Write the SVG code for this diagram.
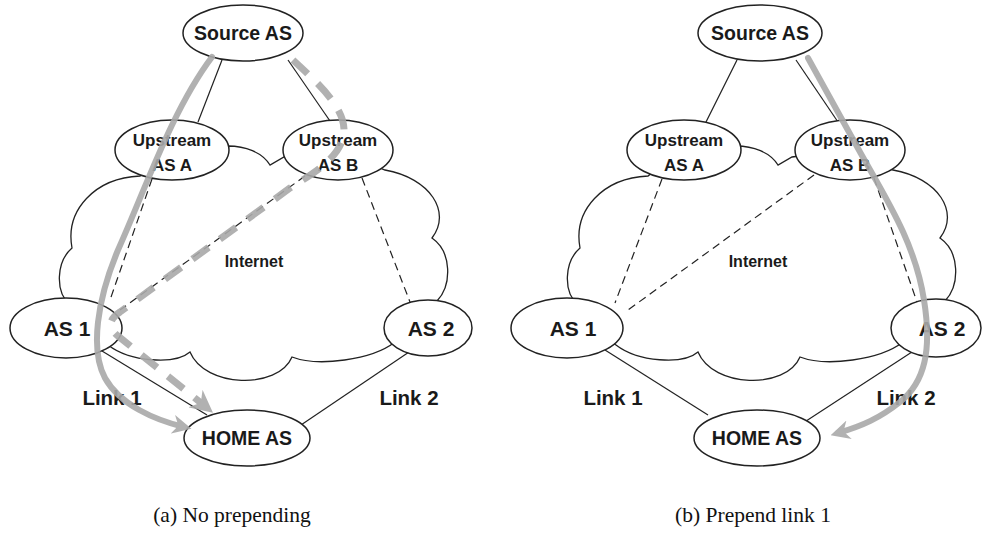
<svg xmlns="http://www.w3.org/2000/svg" width="1003" height="546" viewBox="0 0 1003 546">
<style>
.bg{fill:#fff}
.cloud{fill:none;stroke:#222;stroke-width:1.3}
.node{fill:#fff;stroke:#222;stroke-width:1.5}
.lbl{font-family:"Liberation Sans",Arial,sans-serif;font-weight:bold;fill:#1a1a1a;text-anchor:middle}
.big{font-size:19.5px}
.as{font-size:21px}
.lk{font-size:20.5px}
.small{font-size:17px}
.inet{font-size:16px}
.link{stroke:#222;stroke-width:1.2;fill:none}
.dash{stroke:#222;stroke-width:1.2;fill:none;stroke-dasharray:8,5}
.route{stroke:#a9a9a9;stroke-width:6;fill:none;stroke-linecap:round;opacity:0.9}
.rdash{stroke:#a9a9a9;stroke-width:7;fill:none;stroke-dasharray:20,14;opacity:0.9}
.cap{font-family:"Liberation Serif","Times New Roman",serif;font-size:21.5px;fill:#111;text-anchor:middle}
</style>
<defs>
<marker id="ah" viewBox="0 0 10 10" refX="6" refY="5" markerWidth="3.2" markerHeight="3.2" orient="auto" markerUnits="strokeWidth">
<path d="M0,0 L10,5 L0,10 L3,5 Z" fill="#a9a9a9"/>
</marker>
<path id="cloudShape" d="M140,176 C95,178 65,210 72,248 C56,262 55,292 70,305 L100,340 L108,345 C130,362 175,365 190,352 C205,388 278,390 292,357 C318,367 372,360 395,342 L430,320 L437,301 C452,285 452,252 432,238 C452,212 430,178 385,170 L338,150 L284,157 L270,165 C262,152 245,146 228,146 L172,150 Z"/>
</defs>
<rect class="bg" x="0" y="0" width="1003" height="546"/>

<g id="cloud-a"><use href="#cloudShape" class="cloud"/><text class="lbl inet" x="254" y="267">Internet</text></g>
<g id="cloud-b"><use href="#cloudShape" class="cloud" transform="translate(508,0)"/><text class="lbl inet" x="758" y="267">Internet</text></g>

<g id="connectors">
<line class="link" x1="222" y1="60" x2="198" y2="122"/>
<line class="link" x1="288" y1="60" x2="330" y2="121"/>
<line class="dash" x1="152" y1="179" x2="110" y2="300"/>
<line class="dash" x1="305" y1="176" x2="120" y2="310"/>
<line class="dash" x1="362" y1="178" x2="410" y2="302"/>
<line class="link" x1="102" y1="351" x2="207" y2="415"/>
<line class="link" x1="412" y1="350" x2="298" y2="427"/>

<line class="link" x1="737" y1="60" x2="706" y2="122"/>
<line class="link" x1="796" y1="60" x2="838" y2="122"/>
<line class="dash" x1="662" y1="179" x2="615" y2="303"/>
<line class="dash" x1="814" y1="175" x2="628" y2="310"/>
<line class="dash" x1="874" y1="178" x2="917" y2="302"/>
<line class="link" x1="605" y1="350" x2="708" y2="415"/>
<line class="link" x1="915" y1="350" x2="800" y2="425"/>
</g>

<g id="a-source"><ellipse class="node" cx="243" cy="33" rx="60" ry="28"/><text class="lbl big" x="243" y="40">Source AS</text></g>
<g id="a-upA"><ellipse class="node" cx="172" cy="150" rx="57" ry="30"/><text class="lbl small" x="172" y="146">Upstream</text><text class="lbl small" x="172" y="171">AS A</text></g>
<g id="a-upB"><ellipse class="node" cx="338" cy="150" rx="55" ry="30"/><text class="lbl small" x="338" y="146">Upstream</text><text class="lbl small" x="338" y="171">AS B</text></g>
<g id="a-as1"><ellipse class="node" cx="66" cy="328" rx="56" ry="30"/><text class="lbl as" x="67" y="336">AS 1</text></g>
<g id="a-as2"><ellipse class="node" cx="428" cy="328" rx="44" ry="28"/><text class="lbl as" x="431" y="336">AS 2</text></g>
<g id="a-home"><ellipse class="node" cx="247" cy="438" rx="63" ry="28"/><text class="lbl big" x="247" y="445">HOME AS</text></g>
<g id="a-link1"><text class="lbl lk" x="112" y="405">Link 1</text></g>
<g id="a-link2"><text class="lbl lk" x="409" y="405">Link 2</text></g>

<g id="b-source"><ellipse class="node" cx="760" cy="33" rx="62" ry="28"/><text class="lbl big" x="760" y="40">Source AS</text></g>
<g id="b-upA"><ellipse class="node" cx="684" cy="150" rx="57" ry="30"/><text class="lbl small" x="684" y="146">Upstream</text><text class="lbl small" x="684" y="171">AS A</text></g>
<g id="b-upB"><ellipse class="node" cx="850" cy="150" rx="55" ry="30"/><text class="lbl small" x="850" y="146">Upstream</text><text class="lbl small" x="850" y="171">AS B</text></g>
<g id="b-as1"><ellipse class="node" cx="567" cy="328" rx="56" ry="30"/><text class="lbl as" x="573" y="336">AS 1</text></g>
<g id="b-as2"><ellipse class="node" cx="936" cy="328" rx="45" ry="29"/><text class="lbl as" x="942" y="336">AS 2</text></g>
<g id="b-home"><ellipse class="node" cx="757" cy="438" rx="63" ry="28"/><text class="lbl big" x="757" y="445">HOME AS</text></g>
<g id="b-link1"><text class="lbl lk" x="613" y="405">Link 1</text></g>
<g id="b-link2"><text class="lbl lk" x="906" y="405">Link 2</text></g>

<g id="routes">
<path class="route" marker-end="url(#ah)" d="M212,57 C172,110 145,190 118,250 C97,300 90,350 105,378 C120,405 155,420 184,427"/>
<path class="rdash" marker-end="url(#ah)" d="M293,60 C320,85 350,112 343,138 C337,160 312,174 290,188 L120,312 C108,320 108,328 118,336 L206,407"/>
<path class="route" marker-end="url(#ah)" d="M808,58 L860,152 C885,197 915,242 924,300 C932,350 925,382 900,402 C880,418 862,426 838,433"/>
</g>

<text class="cap" x="232" y="522">(a) No prepending</text>
<text class="cap" x="753" y="522">(b) Prepend link 1</text>
</svg>
